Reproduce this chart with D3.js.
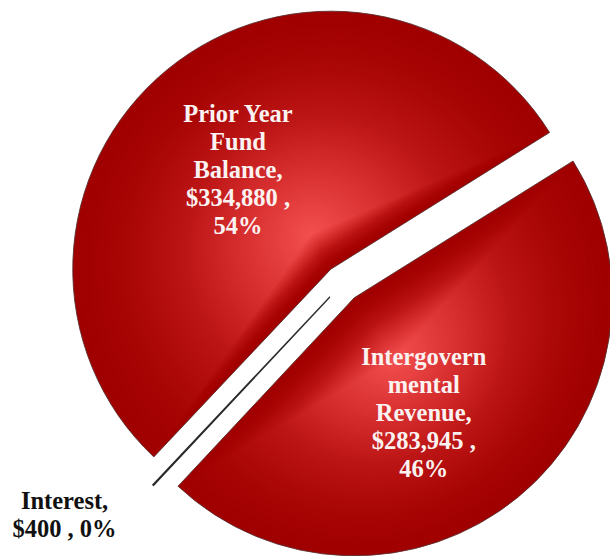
<!DOCTYPE html>
<html>
<head>
<meta charset="utf-8">
<script src="https://cdn.jsdelivr.net/npm/d3@7"></script>
<style>
  html, body { margin: 0; padding: 0; background: #ffffff; }
  svg { display: block; }
  text { font-family: "Liberation Serif", "Times New Roman", serif; font-weight: bold; }
</style>
</head>
<body>
<svg id="chart" width="610" height="556"></svg>
<script>
// Revenue sources
const categories = ["Intergovernmental Revenue", "Interest", "Prior Year Fund Balance"];
const values = [283945, 400, 334880];
// Wrapped name lines shown in each data label
const nameLines = [["Intergovern", "mental", "Revenue,"], ["Interest,"], ["Prior Year", "Fund", "Balance,"]];

const cx = 342.5, cy = 283.5;
const R = 258;
const explode = 18.5;
const deg = Math.PI / 180;
const start = 58 * deg;

const svg = d3.select("#chart");

const total = d3.sum(values);
const data = categories.map((c, i) => ({ name: c, value: values[i], lines: nameLines[i] }));

const pie = d3.pie().sort(null).value(d => d.value)
  .startAngle(start).endAngle(start + 2 * Math.PI);
const arcs = pie(data);

const arc = d3.arc().innerRadius(0).outerRadius(R);
const fmt = d3.format(",");

// shape-following shading: bright core, deep red towards every edge of the slice
const shade = d3.scaleLinear()
  .domain([0, 0.25, 0.55, 0.8, 1])
  .range(["#f45050", "#dc3434", "#bb1414", "#a80505", "#a00000"])
  .interpolate(d3.interpolateRgb);
const steps = 70;

const slices = svg.append("g").selectAll("g.slice")
  .data(arcs)
  .join("g")
  .attr("class", "slice")
  .attr("transform", d => {
    const mid = (d.startAngle + d.endAngle) / 2;
    return `translate(${cx + explode * Math.sin(mid)},${cy - explode * Math.cos(mid)})`;
  });

slices.each(function (d) {
  const g = d3.select(this);
  const share = d.data.value / total;
  const path = arc(d);
  if (share < 0.01) {
    // a sliver this thin shows only as its outline
    g.append("path").attr("d", path).attr("fill", "none")
      .attr("stroke", "#2a2a2a").attr("stroke-width", 1.3);
    return;
  }
  // bounding-box centre of the slice is the focus of the shading
  const tmp = g.append("path").attr("d", path);
  const bb = tmp.node().getBBox();
  tmp.remove();
  const fx = bb.x + bb.width / 2, fy = bb.y + bb.height / 2;
  const layers = d3.range(steps, 0, -1).map(k => k / steps);
  g.selectAll("path.layer")
    .data(layers)
    .join("path")
    .attr("class", "layer")
    .attr("d", path)
    .attr("transform", s => `translate(${fx},${fy}) scale(${s}) translate(${-fx},${-fy})`)
    .attr("fill", s => shade(s));
  g.append("path").attr("d", path).attr("fill", "none")
    .attr("stroke", "#5a3030").attr("stroke-width", 0.9);
});

// label placement offsets (fine adjustment around each slice centroid)
const labelNudge = [[-15, 12], [-75, 15], [-8.5, 3]];
const lineH = 28;
const fontSize = 24.5;

slices.each(function (d, k) {
  const g = d3.select(this);
  const mid = (d.startAngle + d.endAngle) / 2;
  const share = d.data.value / total;
  const inside = share >= 0.01;
  const r = inside ? 133 : R + 20;
  const x = r * Math.sin(mid) + labelNudge[k][0];
  const y = -r * Math.cos(mid) + labelNudge[k][1];
  const pct = Math.round(share * 100) + "%";
  const money = "$" + fmt(d.data.value);
  const lines = inside
    ? [...d.data.lines, money + " ,", pct]
    : [...d.data.lines, money + " , " + pct];
  const n = lines.length;
  const t = g.append("text")
    .attr("text-anchor", "middle")
    .attr("font-size", fontSize)
    .attr("fill", inside ? "#fbf2f2" : "#111111");
  lines.forEach((s, j) => {
    t.append("tspan")
      .attr("x", x)
      .attr("y", y + (j - (n - 1) / 2) * lineH + fontSize * 0.34)
      .text(s);
  });
});
</script>
</body>
</html>
